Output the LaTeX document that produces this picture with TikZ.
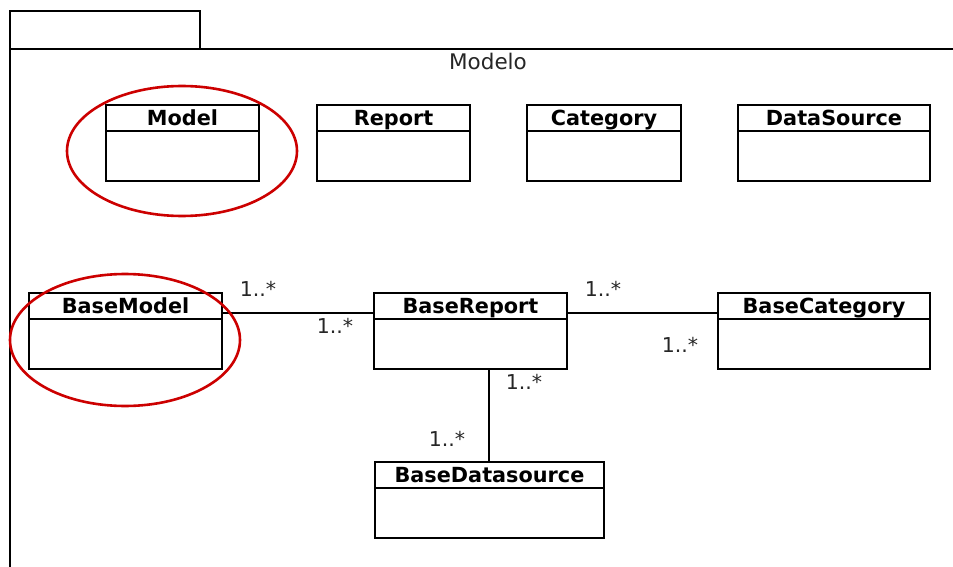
\documentclass[tikz,border=0pt]{standalone}
\usepackage{fontspec}
\setmainfont{DejaVu Sans}
\begin{document}
\begin{tikzpicture}[x=1pt,y=-1pt,
  line width=1.6pt,
  classbox/.style={draw=black, line width=1.6pt, minimum height=76pt, inner sep=0pt},
  classtitle/.style={font=\fontsize{20.8}{21}\selectfont\bfseries, inner sep=0pt, anchor=base},
  mult/.style={font=\fontsize{20.5}{21}\selectfont, inner sep=0pt, text=black!85},
  highlight/.style={draw=red!80!black, line width=2.6pt}]
\useasboundingbox (0,0) rectangle (953,567);
% package frame
\begin{scope}
\clip (0,0) rectangle (953,567);
\draw (10,11) rectangle (200,49);
\draw (10,575) -- (10,49) -- (960,49);
\end{scope}
\node[font=\fontsize{21.5}{22}\selectfont, text=black!85, inner sep=0pt] (pkgname) at (488,61) {Modelo};
% class with a title compartment
\newcommand\umlclass[5]{%
  \node[classbox, minimum width=#4pt] (#1) at (#2,#3) {};
  \draw ([yshift=-27pt]#1.north west) -- ([yshift=-27pt]#1.north east);
  \node[classtitle] (#1-title) at ([yshift=-21pt]#1.north) {#5};
}
\umlclass{model}{182.5}{143}{153}{Model}
\umlclass{report}{393.5}{143}{153}{Report}
\umlclass{category}{604}{143}{154}{Category}
\umlclass{datasource}{834}{143}{192}{DataSource}
\umlclass{bmodel}{125.5}{331}{193}{BaseModel}
\umlclass{breport}{470.5}{331}{193}{BaseReport}
\umlclass{bcategory}{824}{331}{212}{BaseCategory}
\umlclass{bds}{489.5}{500}{229}{BaseDatasource}
% associations
\draw ([yshift=18pt]bmodel.east) -- ([yshift=18pt]breport.west);
\draw ([yshift=18pt]breport.east) -- ([yshift=18pt]bcategory.west);
\draw ([xshift=-0.5pt]bds.north) -- ([xshift=-0.5pt]bds.north |- breport.south);
% multiplicities
\node[mult] (m1) at (258,289) {1..*};
\node[mult] (m2) at (335,326) {1..*};
\node[mult] (m3) at (603,289) {1..*};
\node[mult] (m4) at (680,345) {1..*};
\node[mult] (m5) at (524,382) {1..*};
\node[mult] (m6) at (447,439) {1..*};
% highlighted classes
\draw[highlight] (182,151) ellipse [x radius=115, y radius=65];
\draw[highlight] (125,340) ellipse [x radius=115, y radius=66];
\end{tikzpicture}
\end{document}
